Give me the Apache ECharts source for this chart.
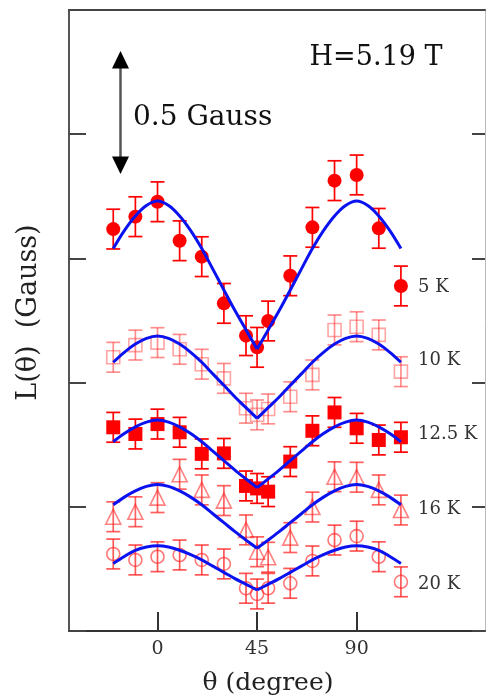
<!DOCTYPE html>
<html>
<head>
<meta charset="utf-8">
<script src="https://cdn.jsdelivr.net/npm/echarts@6/dist/echarts.min.js"></script>
<style>html,body{margin:0;padding:0;background:#fff;}#c{width:486px;height:697px;}</style>
</head>
<body>
<div id="c"></div>
<script>
// ---- data ----
const temps = ['5 K', '10 K', '12.5 K', '16 K', '20 K'];
const angles = [-20, -10, 0, 10, 20, 30, 40, 45, 50, 60, 70, 80, 90, 100, 110];
const l5K  = [1.618, 1.668, 1.728, 1.571, 1.507, 1.319, 1.189, 1.142, 1.248, 1.430, 1.625, 1.813, 1.836, 1.621, 1.389];
const l10K = [1.102, 1.151, 1.161, 1.134, 1.074, 1.017, 0.897, 0.870, 0.894, 0.943, 1.031, 1.212, 1.225, 1.192, 1.044];
const l12K = [0.820, 0.793, 0.833, 0.800, 0.713, 0.715, 0.584, 0.574, 0.561, 0.682, 0.806, 0.880, 0.816, 0.769, 0.780];
const l16K = [0.460, 0.480, 0.537, 0.631, 0.568, 0.525, 0.407, 0.319, 0.297, 0.376, 0.499, 0.621, 0.619, 0.568, 0.487];
const l20K = [0.310, 0.286, 0.299, 0.306, 0.286, 0.270, 0.172, 0.149, 0.172, 0.192, 0.282, 0.366, 0.382, 0.299, 0.198];
const errs = [0.08, 0.06, 0.06, 0.06, 0.06];

const fitAngles = [-20, -15, -10, -5, 0, 5, 10, 15, 20, 25, 30, 35, 40, 45, 50, 55, 60, 65, 70, 75, 80, 85, 90, 95, 100, 105, 110];
const fit5K  = [1.540, 1.612, 1.671, 1.713, 1.731, 1.713, 1.671, 1.612, 1.540, 1.457, 1.373, 1.290, 1.212, 1.135, 1.212, 1.290, 1.373, 1.457, 1.540, 1.612, 1.671, 1.713, 1.731, 1.713, 1.671, 1.612, 1.540];
const fit10K = [1.082, 1.122, 1.155, 1.178, 1.188, 1.178, 1.155, 1.122, 1.082, 1.035, 0.989, 0.942, 0.899, 0.856, 0.899, 0.942, 0.989, 1.035, 1.082, 1.122, 1.155, 1.178, 1.188, 1.178, 1.155, 1.122, 1.082];
const fit12K = [0.762, 0.795, 0.822, 0.841, 0.849, 0.841, 0.822, 0.795, 0.762, 0.724, 0.686, 0.648, 0.612, 0.577, 0.612, 0.648, 0.686, 0.724, 0.762, 0.795, 0.822, 0.841, 0.849, 0.841, 0.822, 0.795, 0.762];
const fit16K = [0.508, 0.539, 0.564, 0.582, 0.590, 0.582, 0.564, 0.539, 0.508, 0.472, 0.436, 0.400, 0.366, 0.333, 0.366, 0.400, 0.436, 0.472, 0.508, 0.539, 0.564, 0.582, 0.590, 0.582, 0.564, 0.539, 0.508];
const fit20K = [0.272, 0.300, 0.325, 0.338, 0.343, 0.338, 0.325, 0.307, 0.286, 0.261, 0.236, 0.211, 0.188, 0.165, 0.188, 0.211, 0.236, 0.261, 0.286, 0.307, 0.325, 0.338, 0.343, 0.338, 0.325, 0.300, 0.272];
const xTicks = [0, 45, 90];

// ---- styling ----
const FONT = 'DejaVu Serif';
const pointSets = [l5K, l10K, l12K, l16K, l20K];
const fitSets = [fit5K, fit10K, fit12K, fit16K, fit20K];
const symbols = ['circle', 'rect', 'rect', 'triangle', 'circle'];
const sizes = [14, 13, 14, 15, 13];
const filled = [true, false, true, false, false];
const colors = ['#ff0000', 'rgba(255,50,50,0.55)', '#ff0000', 'rgba(255,30,30,0.7)', 'rgba(255,30,30,0.75)'];
const labelY = [287, 360, 434, 509, 584];

const series = [];
pointSets.forEach((vals, k) => {
  const col = colors[k];
  series.push({
    type: 'custom',
    name: temps[k] + ' err',
    z: 2,
    clip: true,
    renderItem: function (params, api) {
      const x = api.value(0), y = api.value(1), e = api.value(2);
      const t = api.coord([x, y + e]), b = api.coord([x, y - e]);
      const hw = 7;
      const st = { stroke: col, lineWidth: 1.7 };
      return {
        type: 'group',
        children: [
          { type: 'line', shape: { x1: t[0], y1: t[1], x2: b[0], y2: b[1] }, style: st },
          { type: 'line', shape: { x1: t[0] - hw, y1: t[1], x2: t[0] + hw, y2: t[1] }, style: st },
          { type: 'line', shape: { x1: b[0] - hw, y1: b[1], x2: b[0] + hw, y2: b[1] }, style: st }
        ]
      };
    },
    encode: { x: 0, y: 1 },
    data: angles.map((a, i) => [a, vals[i], errs[k]])
  });
  series.push({
    type: 'scatter',
    name: temps[k],
    z: 3,
    symbol: symbols[k],
    symbolSize: sizes[k],
    itemStyle: filled[k]
      ? { color: col, borderWidth: 0, opacity: 1 }
      : { color: 'rgba(0,0,0,0)', borderColor: col, borderWidth: 1.6 },
    data: angles.map((a, i) => [a, vals[i]])
  });
});
fitSets.forEach((vals, k) => {
  const pts = fitAngles.map((a, i) => [a, vals[i]]);
  const mid = fitAngles.indexOf(45);
  [pts.slice(0, mid + 1), pts.slice(mid)].forEach(part => {
    series.push({
      type: 'line',
      name: temps[k] + ' fit',
      z: 4,
      smooth: 0.35,
      showSymbol: false,
      symbol: 'none',
      lineStyle: { color: '#0a12f0', width: 3 },
      data: part
    });
  });
});

const graphics = [
  // 0.5 Gauss scale arrow
  { type: 'line', shape: { x1: 120.5, y1: 62, x2: 120.5, y2: 163 }, style: { stroke: '#555', lineWidth: 2.5 } },
  { type: 'polygon', shape: { points: [[120.5, 51], [112, 68.5], [129, 68.5]] }, style: { fill: '#000' } },
  { type: 'polygon', shape: { points: [[120.5, 174], [112, 156.5], [129, 156.5]] }, style: { fill: '#000' } },
  { type: 'text', left: 133, top: 104, style: { text: '0.5 Gauss', fontFamily: FONT, fontSize: 28, fill: '#111' } },
  { type: 'text', x: 376, y: 58, style: { text: 'H=5.19 T', fontFamily: FONT, fontSize: 27, fill: '#111', align: 'center', verticalAlign: 'middle' } }
];
temps.forEach((t, k) => {
  graphics.push({ type: 'text', x: 418, y: labelY[k], style: { text: t, fontFamily: FONT, fontSize: 18, fill: '#333', align: 'left', verticalAlign: 'middle' } });
});

const chart = echarts.init(document.getElementById('c'), null, { renderer: 'canvas' });
chart.setOption({
  animation: false,
  backgroundColor: '#fff',
  grid: { left: 69, top: 10, right: 1, bottom: 66, show: false, containLabel: false, outerBoundsMode: 'none' },
  xAxis: [
    {
      type: 'value',
      min: -40,
      max: 148,
      position: 'bottom',
      name: 'θ (degree)',
      nameLocation: 'middle',
      nameGap: 40,
      nameTextStyle: { fontFamily: FONT, fontSize: 25, color: '#222', padding: [0, 18, 0, 0] },
      axisLine: { show: true, onZero: false, lineStyle: { color: '#333', width: 2 } },
      axisTick: { show: true, inside: true, length: 19, customValues: xTicks, lineStyle: { color: '#333', width: 2 } },
      axisLabel: { show: true, customValues: xTicks, margin: 9, fontFamily: FONT, fontSize: 19, color: '#333' },
      splitLine: { show: false }
    },
    {
      type: 'value',
      min: -40,
      max: 148,
      position: 'top',
      axisLine: { show: true, onZero: false, lineStyle: { color: '#444', width: 2 } },
      axisTick: { show: false },
      axisLabel: { show: false },
      splitLine: { show: false }
    }
  ],
  yAxis: [
    {
      type: 'value',
      min: 0,
      max: 2.5,
      interval: 0.5,
      position: 'left',
      name: 'L(θ)  (Gauss)',
      nameLocation: 'middle',
      nameGap: 27,
      nameTextStyle: { fontFamily: FONT, fontSize: 27, color: '#222', padding: [0, 0, 0, 16] },
      axisLine: { show: true, onZero: false, lineStyle: { color: '#555', width: 2 } },
      axisTick: { show: true, inside: true, length: 17, lineStyle: { color: '#444', width: 2 } },
      axisLabel: { show: false },
      splitLine: { show: false }
    },
    {
      type: 'value',
      min: 0,
      max: 2.5,
      interval: 0.5,
      position: 'right',
      axisLine: { show: true, onZero: false, lineStyle: { color: '#bbb', width: 1 } },
      axisTick: { show: true, inside: true, length: 13, lineStyle: { color: '#444', width: 2 } },
      axisLabel: { show: false },
      splitLine: { show: false }
    }
  ],
  graphic: graphics,
  series: series
});
</script>
</body>
</html>
